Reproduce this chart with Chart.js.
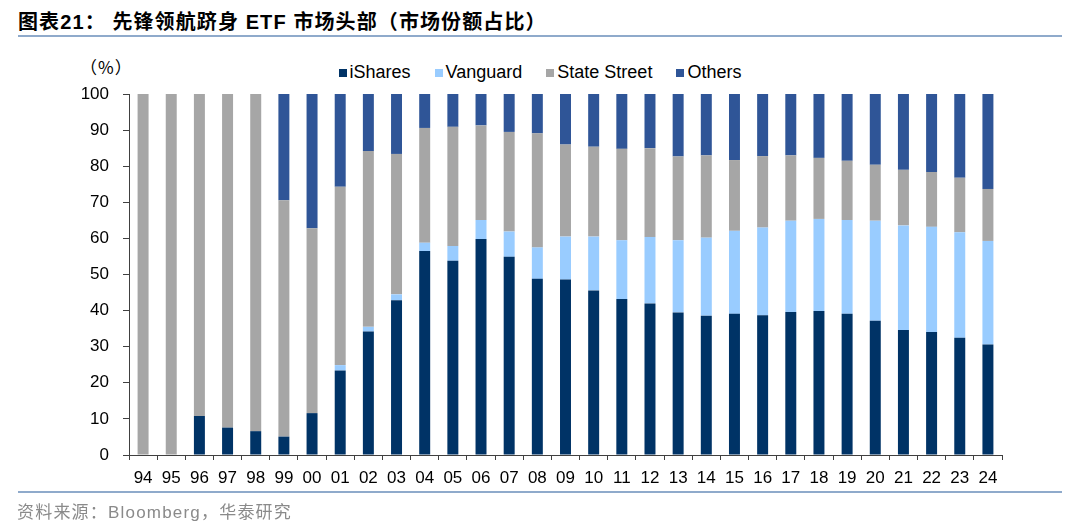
<!DOCTYPE html>
<html>
<head>
<meta charset="utf-8">
<script src="https://cdn.jsdelivr.net/npm/chart.js@4"></script>
<style>
  html, body { margin:0; padding:0; background:#fff; }
  #wrap { position:relative; width:1080px; height:527px; overflow:hidden; font-family:"Liberation Sans", Arial, sans-serif; }
  #c { position:absolute; left:0; top:0; }
  .title { position:absolute; left:18px; top:6px; font-size:20px; font-weight:bold; color:#000; font-family:"Liberation Sans","Noto Sans CJK SC",sans-serif; white-space:nowrap; letter-spacing:1.1px; }
  .rule { position:absolute; left:18px; width:1044px; height:2px; background:#8FAACB; }
  .source { position:absolute; left:17px; top:498px; font-size:17px; color:#8a8a8a; font-family:"Liberation Sans","Noto Sans CJK SC",sans-serif; white-space:nowrap; letter-spacing:1.2px; }
  .unit { position:absolute; left:80px; top:54px; font-size:17px; color:#000; font-family:"Noto Sans CJK SC",sans-serif; letter-spacing:1px; }
  #legend { position:absolute; top:62px; left:0; width:1080px; text-align:center; font-size:18px; color:#000; white-space:nowrap; }
  #legend span.item { display:inline-block; margin:0 12px; }
  #legend span.box { display:inline-block; width:8px; height:8px; margin-right:3px; vertical-align:1px; }
</style>
</head>
<body>
<div id="wrap">
  <div class="title">图表21：&nbsp;先锋领航跻身 ETF 市场头部（市场份额占比）</div>
  <div class="rule" style="top:35px"></div>
  <div class="unit">（%）</div>
  <div id="legend"></div>
  <canvas id="c" width="1080" height="527"></canvas>
  <div class="rule" style="top:491px"></div>
  <div class="source">资料来源：Bloomberg，华泰研究</div>
</div>
<script>
const years = ['94','95','96','97','98','99','00','01','02','03','04','05','06','07','08','09','10','11','12','13','14','15','16','17','18','19','20','21','22','23','24'];
const seriesNames = ['iShares','Vanguard','State Street','Others'];
const seriesColors = ['#003366','#99CCFF','#A6A6A6','#2F5597'];
const iShares     = [0,0,10.8,7.6,6.6,5.1,11.6,23.4,34.2,42.9,56.5,53.8,59.8,54.9,48.8,48.6,45.6,43.2,42.0,39.5,38.6,39.1,38.7,39.6,39.9,39.1,37.2,34.6,34.1,32.5,30.6];
const vanguard    = [0,0,0,0,0,0,0,1.5,1.3,1.6,2.3,4.1,5.3,7.0,8.7,11.9,14.9,16.3,18.4,20.0,21.6,23.0,24.3,25.3,25.5,26.0,27.7,29.0,29.1,29.2,28.7];
const stateStreet = [100,100,89.2,92.4,93.4,65.5,51.2,49.4,48.7,38.9,31.8,33.0,26.2,27.6,31.6,25.5,24.9,25.3,24.6,23.2,22.8,19.6,19.8,18.1,16.9,16.4,15.5,15.4,15.2,15.1,14.4];
const others      = [0,0,0,0,0,29.4,37.2,25.7,15.8,16.6,9.4,9.1,8.7,10.5,10.9,14.0,14.6,15.2,15.0,17.3,17.0,18.3,17.2,17.0,17.7,18.5,19.6,21.0,21.6,23.2,26.3];
const yTicks = [0,10,20,30,40,50,60,70,80,90,100];

const seriesData = [iShares, vanguard, stateStreet, others];

// HTML legend
const lg = document.getElementById('legend');
seriesNames.forEach((n,i)=>{
  const s = document.createElement('span'); s.className='item';
  const b = document.createElement('span'); b.className='box'; b.style.background=seriesColors[i];
  s.appendChild(b); s.appendChild(document.createTextNode(n)); lg.appendChild(s);
});

new Chart(document.getElementById('c'), {
  type: 'bar',
  data: {
    labels: years,
    datasets: seriesNames.map((n,i)=>({
      label: n, data: seriesData[i], backgroundColor: seriesColors[i],
      borderWidth: 0, barPercentage: 0.39, categoryPercentage: 1.0
    }))
  },
  options: {
    responsive: false, animation: false,
    devicePixelRatio: 1,
    layout: { padding: { left: 0, right: 78, top: 94, bottom: 36 } },
    plugins: { legend: { display: false }, tooltip: { enabled: false } },
    scales: {
      x: {
        stacked: true,
        offset: true,
        grid: { display: true, drawOnChartArea: false, drawTicks: true, tickLength: 5, offset: true, color: '#404040' },
        border: { display: true, color: '#404040', width: 1 },
        ticks: { color: '#000', font: { size: 17, family: '"Liberation Sans", Arial, sans-serif' }, padding: 8, maxRotation: 0, autoSkip: false },
        afterFit: s => { s.height = 36; }
      },
      y: {
        stacked: true,
        min: 0, max: 100,
        afterBuildTicks: s => { s.ticks = yTicks.map(v=>({value:v})); },
        grid: { display: true, drawOnChartArea: false, drawTicks: true, tickLength: 6, color: '#404040' },
        border: { display: true, color: '#404040', width: 1 },
        ticks: { color: '#000', font: { size: 17, family: '"Liberation Sans", Arial, sans-serif' }, padding: 14 },
        afterFit: s => { s.width = 129; }
      }
    }
  }
});
</script>
</body>
</html>
